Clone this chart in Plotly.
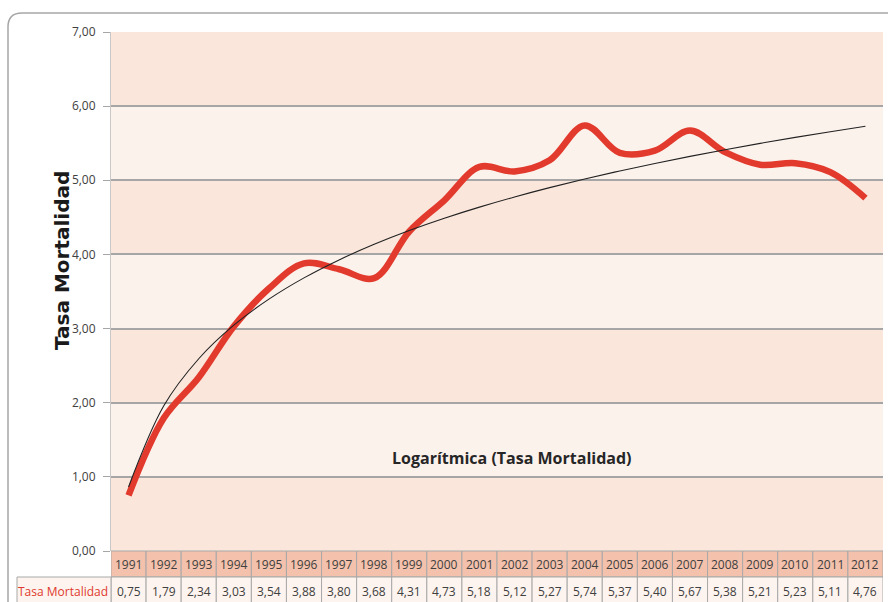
import numpy as np
import plotly.graph_objects as go

years = ["1991", "1992", "1993", "1994", "1995", "1996", "1997", "1998", "1999", "2000", "2001",
         "2002", "2003", "2004", "2005", "2006", "2007", "2008", "2009", "2010", "2011", "2012"]
tasa = [0.75, 1.79, 2.34, 3.03, 3.54, 3.88, 3.80, 3.68, 4.31, 4.73, 5.18,
        5.12, 5.27, 5.74, 5.37, 5.40, 5.67, 5.38, 5.21, 5.23, 5.11, 4.76]
y_ticks = [0, 1, 2, 3, 4, 5, 6, 7]
series_name = "Tasa Mortalidad"
trend_name = "Logarítmica (Tasa Mortalidad)"

# logarithmic trend (least squares on ln(index))
idx = np.arange(1, len(tasa) + 1)
a, b = np.polyfit(np.log(idx), np.array(tasa), 1)
trend = a * np.log(idx) + b

W, H = 888, 602
L, R, T, B = 111, 5, 32, 51
pw, ph = W - L - R, H - T - B


def px_x(px):
    return (px - L) / pw


def px_y(py):
    return (H - B - py) / ph


fig = go.Figure()
fig.add_trace(go.Scatter(x=years, y=tasa, mode="lines", name=series_name,
                         line=dict(color="#E23A2D", width=6.5, shape="spline", smoothing=1.0)))
fig.add_trace(go.Scatter(x=years, y=trend, mode="lines", name=trend_name,
                         line=dict(color="#222222", width=1.1, shape="spline")))

shapes = []
# alternating bands
for i in range(len(y_ticks) - 1):
    shapes.append(dict(type="rect", xref="paper", yref="y", x0=0, x1=1,
                       y0=y_ticks[i], y1=y_ticks[i + 1], layer="below", line=dict(width=0),
                       fillcolor="#FAE6DB" if i % 2 == 0 else "#FCF2EC"))

# table cells
hdr_top, hdr_bot, val_bot = px_y(551), px_y(577), px_y(610)
for i, yr in enumerate(years):
    shapes.append(dict(type="rect", xref="x", yref="paper", x0=i - 0.5, x1=i + 0.5,
                       y0=hdr_bot, y1=hdr_top, fillcolor="#F4C2AC",
                       line=dict(color="#A8A8A8", width=1)))
    shapes.append(dict(type="rect", xref="x", yref="paper", x0=i - 0.5, x1=i + 0.5,
                       y0=val_bot, y1=hdr_bot, fillcolor="#FDF4EF",
                       line=dict(color="#A8A8A8", width=1)))
shapes.append(dict(type="rect", xref="paper", yref="paper", x0=px_x(17), x1=0,
                   y0=val_bot, y1=hdr_bot, fillcolor="#FDF4EF",
                   line=dict(color="#A8A8A8", width=1)))

# outer rounded border of chart area
x0, y0, r = 8, 13, 14
path = (f"M {px_x(x0)},{px_y(620)} L {px_x(x0)},{px_y(y0 + r)} "
        f"Q {px_x(x0)},{px_y(y0)} {px_x(x0 + r)},{px_y(y0)} L {px_x(900)},{px_y(y0)}")
shapes.append(dict(type="path", xref="paper", yref="paper", path=path,
                   line=dict(color="#A6A6A6", width=1.5)))

cell_font = dict(family="Open Sans", size=12, color="#404040")
annotations = []
for i, yr in enumerate(years):
    annotations.append(dict(x=i, y=px_y(564), xref="x", yref="paper", text=yr, showarrow=False,
                            xanchor="center", yanchor="middle", font=cell_font))
    annotations.append(dict(x=i, y=px_y(591), xref="x", yref="paper",
                            text=f"{tasa[i]:.2f}".replace(".", ","), showarrow=False,
                            xanchor="center", yanchor="middle", font=cell_font))
annotations.append(dict(x=px_x(63), y=px_y(591), xref="paper", yref="paper", text=series_name,
                        showarrow=False, xanchor="center", yanchor="middle",
                        font=dict(family="Open Sans", size=12, color="#E03A2E")))
annotations.append(dict(x=px_x(512), y=px_y(458), xref="paper", yref="paper", text=f"<b>{trend_name}</b>",
                        showarrow=False, xanchor="center", yanchor="middle",
                        font=dict(family="Open Sans", size=16, color="#262626")))
# y-axis title
annotations.append(dict(x=px_x(62), y=px_y(261), xref="paper", yref="paper",
                        text=f"<b>{series_name}</b>", textangle=-90, showarrow=False,
                        xanchor="center", yanchor="middle",
                        font=dict(family="DejaVu Sans", size=20, color="#1A1A1A")))

fig.update_layout(
    width=W, height=H,
    margin=dict(l=L, r=R, t=T, b=B),
    paper_bgcolor="white", plot_bgcolor="#FAE6DB",
    showlegend=False,
    shapes=shapes, annotations=annotations,
    xaxis=dict(type="category", range=[-0.5, len(years) - 0.5], showticklabels=False,
               showgrid=False, zeroline=False, showline=False, ticks=""),
    yaxis=dict(range=[0, 7], tickvals=y_ticks, automargin=False,
               ticktext=[f"{v:.2f}".replace(".", ",") for v in y_ticks],
               showgrid=True, gridcolor="#A6A6A6", gridwidth=1.5, zeroline=False,
               showline=True, linecolor="#C8C8C8", linewidth=1,
               ticks="outside", ticklen=7, tickcolor="#A6A6A6", ticklabelstandoff=5,
               tickfont=dict(family="Open Sans", size=12, color="#404040")),
)

fig.write_html("out.html", config={"displayModeBar": False},
               post_script="document.body.style.margin='0px';")
